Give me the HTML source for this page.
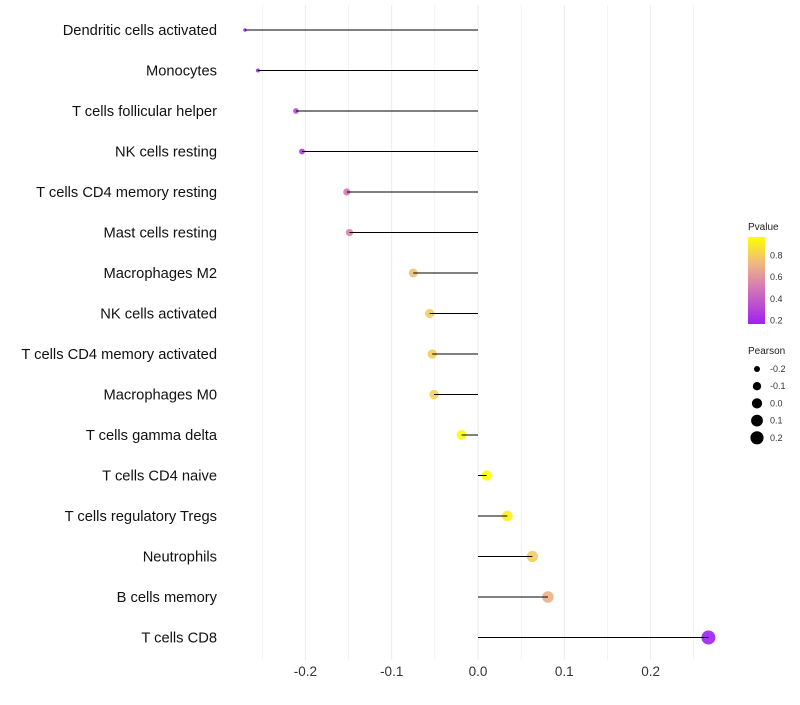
<!DOCTYPE html>
<html><head><meta charset="utf-8"><style>
body{margin:0;background:#fff;font-family:"Liberation Sans",sans-serif}
</style></head><body>
<svg id="chart" width="800" height="700" xmlns="http://www.w3.org/2000/svg" font-family="Liberation Sans, sans-serif">
<defs><linearGradient id="pg" x1="0" y1="1" x2="0" y2="0">
<stop offset="0" stop-color="#A020F0"/><stop offset="0.45" stop-color="#D880B0"/><stop offset="0.7" stop-color="#F0B880"/><stop offset="1" stop-color="#FFFF00"/></linearGradient></defs>
<g id="grid"></g>
<g id="marks"></g>
<g id="ylabels"></g>
<g id="xlabels"></g>
<g font-size="9">
<text x="748" y="230" font-size="10" fill="#222">Pvalue</text>
<rect x="748" y="237" width="17" height="87" fill="url(#pg)"/>
<g id="cbticks"></g>
</g>
<g font-size="9">
<text x="748" y="354" font-size="10" fill="#222">Pearson</text>
<g id="sizelegend"></g>
</g>
</svg>
<script>
const categories=["Dendritic cells activated","Monocytes","T cells follicular helper","NK cells resting","T cells CD4 memory resting","Mast cells resting","Macrophages M2","NK cells activated","T cells CD4 memory activated","Macrophages M0","T cells gamma delta","T cells CD4 naive","T cells regulatory  Tregs ","Neutrophils","B cells memory","T cells CD8"];
const pearson=[-0.270,-0.255,-0.211,-0.204,-0.152,-0.149,-0.075,-0.056,-0.053,-0.051,-0.019,0.010,0.034,0.063,0.081,0.267];
const pvalue=[0.18,0.22,0.33,0.28,0.5,0.55,0.75,0.8,0.8,0.82,0.95,0.97,0.92,0.8,0.7,0.15];
const xTicks=[-0.2,-0.1,0.0,0.1,0.2];
const xTickLabels=["-0.2","-0.1","0.0","0.1","0.2"];
const cbTicks=[0.2,0.4,0.6,0.8];
const sizeTicks=[-0.2,-0.1,0.0,0.1,0.2];
const NS="http://www.w3.org/2000/svg";
const x=v=>478+v*863;
const y=i=>30+i*40.5;
const r=v=>Math.sqrt(Math.max(0.5,2.9+86*(v+0.27)));
const pMin=0.17,pMax=0.97;
const stops=[[0,[160,32,240]],[0.45,[216,128,176]],[0.7,[240,184,128]],[1,[255,255,0]]];
function col(p){let t=Math.max(0,Math.min(1,(p-pMin)/(pMax-pMin)));for(let k=1;k<stops.length;k++){if(t<=stops[k][0]){const a=stops[k-1],b=stops[k],u=(t-a[0])/(b[0]-a[0]);return "rgb("+a[1].map((c,j)=>Math.round(c+(b[1][j]-c)*u)).join(",")+")";}}return "rgb(255,255,0)";}
function mk(tag,at,parent){const e=document.createElementNS(NS,tag);for(const k in at)e.setAttribute(k,at[k]);document.getElementById(parent).appendChild(e);return e;}
for(let v=-0.25;v<=0.26;v+=0.05){const g=mk("line",{x1:x(v),x2:x(v),y1:5,y2:660,stroke:"#ebebeb","stroke-width":Math.abs(Math.round(v*100))%10===0?1:0.6},"grid");

}
xTicks.forEach((v,i)=>{const t=mk("text",{x:x(v),y:676,"text-anchor":"middle","font-size":13.5,fill:"#333"},"xlabels");t.textContent=xTickLabels[i];

});
categories.forEach((c,i)=>{
const t=mk("text",{x:217,y:y(i)+5,"text-anchor":"end","font-size":14.7,fill:"#111"},"ylabels");t.textContent=c;


const d=mk("circle",{cx:x(pearson[i]),cy:y(i),r:r(pearson[i]),fill:col(pvalue[i]),"fill-opacity":0.9},"marks");


const l=mk("line",{x1:x(0),x2:x(pearson[i]),y1:y(i),y2:y(i),stroke:"#000","stroke-width":1},"marks");


});
cbTicks.forEach(p=>{const yy=324-(p-pMin)/(pMax-pMin)*87;
const t=mk("text",{x:770,y:yy+3,"font-size":9,fill:"#333"},"cbticks");t.textContent=p.toFixed(1);

});
sizeTicks.forEach((v,i)=>{const yy=369+i*17.2;
const c=mk("circle",{cx:757,cy:yy,r:r(v),fill:"#000"},"sizelegend");


const t=mk("text",{x:770,y:yy+3,"font-size":9,fill:"#333"},"sizelegend");t.textContent=v.toFixed(1);

});
</script>
</body></html>
